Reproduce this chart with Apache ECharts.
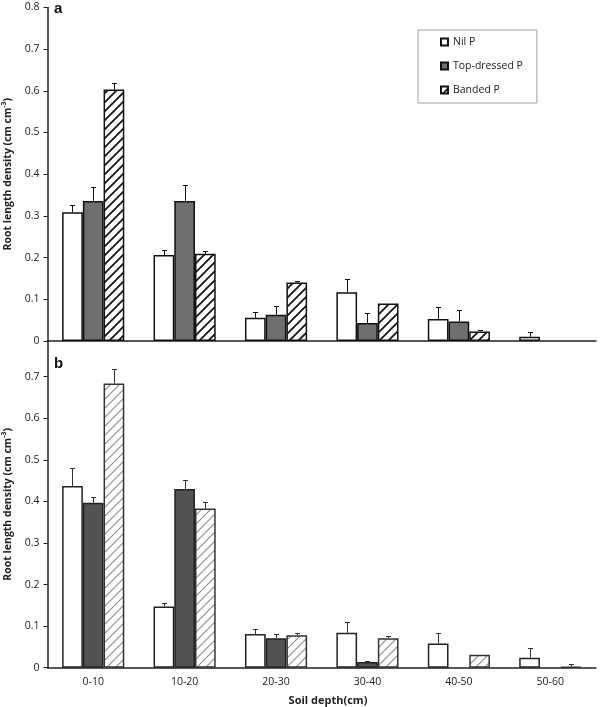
<!DOCTYPE html>
<html>
<head>
<meta charset="utf-8">
<script src="https://cdn.jsdelivr.net/npm/echarts@6/dist/echarts.min.js"></script>
<style>html,body{margin:0;padding:0;background:#fff;}#c{width:600px;height:707px;}</style>
</head>
<body>
<div id="c"></div>
<script>
const categories = ['0-10', '10-20', '20-30', '30-40', '40-50', '50-60'];
const seriesNames = ['Nil P', 'Top-dressed P', 'Banded P'];

// Panel a
const aNil = [0.309, 0.206, 0.056, 0.117, 0.053, 0.010];
const aNilErr = [0.325, 0.219, 0.069, 0.148, 0.082, 0.021];
const aTop = [0.336, 0.336, 0.063, 0.043, 0.047, null];
const aTopErr = [0.370, 0.373, 0.084, 0.067, 0.074, null];
const aBand = [0.603, 0.209, 0.140, 0.090, 0.023, null];
const aBandErr = [0.618, 0.215, 0.145, null, 0.026, null];

// Panel b
const bNil = [0.437, 0.147, 0.081, 0.084, 0.058, 0.024];
const bNilErr = [0.481, 0.156, 0.092, 0.110, 0.083, 0.047];
const bTop = [0.397, 0.430, 0.071, 0.014, null, null];
const bTopErr = [0.410, 0.451, 0.082, 0.017, null, null];
const bBand = [0.684, 0.383, 0.078, 0.071, 0.031, 0.002];
const bBandErr = [0.718, 0.398, 0.084, 0.076, null, 0.009];

const FONT = 'Open Sans';
const CAT_GAP = 0.32;

function hatch(lineColor, lw) {
  const s = 9;
  const c = document.createElement('canvas');
  c.width = s; c.height = s;
  const ctx = c.getContext('2d');
  ctx.fillStyle = '#ffffff';
  ctx.fillRect(0, 0, s, s);
  ctx.strokeStyle = lineColor;
  ctx.lineWidth = lw;
  ctx.beginPath();
  ctx.moveTo(-2, 2); ctx.lineTo(2, -2);
  ctx.moveTo(0, s); ctx.lineTo(s, 0);
  ctx.moveTo(s - 2, s + 2); ctx.lineTo(s + 2, s - 2);
  ctx.stroke();
  return { image: c, repeat: 'repeat' };
}

function errData(errs) {
  const out = [];
  errs.forEach((arr, si) => {
    arr.vals.forEach((v, ci) => {
      const e = arr.errs[ci];
      if (v != null && e != null) out.push([ci, si, v, e]);
    });
  });
  return out;
}

function errSeries(idx, data, color) {
  return {
    type: 'custom', xAxisIndex: idx, yAxisIndex: idx, silent: true, z: 5,
    data: data,
    encode: { x: 0, y: 3 },
    renderItem: function (params, api) {
      const ci = api.value(0), si = api.value(1), v = api.value(2), e = api.value(3);
      const band = api.size([1, 0])[0];
      const bw = band * (1 - CAT_GAP) / 3;
      const x = Math.round(api.coord([ci, 0])[0] + (si - 1) * bw) + 0.5;
      const y0 = api.coord([ci, v])[1];
      const y1 = Math.round(api.coord([ci, e])[1]) + 0.5;
      const st = { stroke: color, lineWidth: 1 };
      return {
        type: 'group', children: [
          { type: 'line', shape: { x1: x, y1: y0, x2: x, y2: y1 }, style: st },
          { type: 'line', shape: { x1: x - 2.5, y1: y1, x2: x + 2.5, y2: y1 }, style: st }
        ]
      };
    }
  };
}

const axisLineStyle = { color: '#222', width: 1.5 };
const labelStyle = { fontFamily: FONT, fontSize: 10.5, color: '#222' };

function yAxis(idx, showMax) {
  return {
    type: 'value', gridIndex: idx, min: 0, max: showMax ? 0.8 : 0.786, interval: 0.1,
    axisLine: { show: true, lineStyle: axisLineStyle },
    axisTick: { show: true, length: 4, lineStyle: { color: '#222', width: 1 } },
    axisLabel: Object.assign({ margin: 8, showMaxLabel: showMax, formatter: v => (v === 0 ? '0' : v.toFixed(1)) }, labelStyle),
    splitLine: { show: false },
    name: '{b|Root length density (cm cm}{s|-3}{b|)}',
    nameLocation: 'middle', nameRotate: 90, nameGap: 28,
    nameTextStyle: {
      rich: {
        b: { fontFamily: FONT, fontWeight: 'bold', fontSize: 10.5, color: '#222', lineHeight: 14 },
        s: { fontFamily: FONT, fontWeight: 'bold', fontSize: 7, color: '#222', verticalAlign: 'top', lineHeight: 14, padding: [0, 0, 6, 0] }
      }
    }
  };
}

function xAxis(idx, showLabels) {
  return {
    type: 'category', gridIndex: idx, data: categories,
    axisLine: { show: true, lineStyle: axisLineStyle },
    axisTick: { show: false },
    axisLabel: Object.assign({ show: showLabels, margin: 9 }, labelStyle),
    splitLine: { show: false }
  };
}

const styleA = [
  { color: '#ffffff', borderColor: '#111', borderWidth: 1.5 },
  { color: '#6f6f6f', borderColor: '#111', borderWidth: 1.5 },
  { color: hatch('#111', 1.7), borderColor: '#111', borderWidth: 1.5 }
];
const styleB = [
  { color: '#ffffff', borderColor: '#222', borderWidth: 1.5 },
  { color: '#525252', borderColor: '#222', borderWidth: 1.5 },
  { color: hatch('#8a8a8a', 1.1), borderColor: '#333', borderWidth: 1.5 }
];

function bars(idx, vals, styles) {
  return vals.map((v, i) => ({
    type: 'bar', name: seriesNames[i], xAxisIndex: idx, yAxisIndex: idx,
    data: v, barGap: '0%', barCategoryGap: (CAT_GAP * 100) + '%',
    itemStyle: styles[i], emphasis: { disabled: true }
  }));
}

const chart = echarts.init(document.getElementById('c'), null, { renderer: 'canvas' });
chart.setOption({
  animation: false,
  backgroundColor: '#ffffff',
  grid: [
    { left: 47.5, right: 4, top: 7.4, height: 333.6, outerBoundsMode: 'none', containLabel: false },
    { left: 47.5, right: 4, top: 341, height: 326.7, outerBoundsMode: 'none', containLabel: false }
  ],
  xAxis: [xAxis(0, false), xAxis(1, true)],
  yAxis: [yAxis(0, true), yAxis(1, false)],
  legend: {
    data: seriesNames, orient: 'vertical', left: 418, top: 30,
    padding: [6, 14, 7, 22], itemGap: 12, itemWidth: 7, itemHeight: 7,
    borderColor: '#a0a0a0', borderWidth: 1, icon: 'rect',
    textStyle: { fontFamily: FONT, fontSize: 10.5, color: '#222', lineHeight: 12 },
    selectedMode: false
  },
  graphic: [
    { type: 'text', left: 54, top: 1, style: { text: 'a', font: 'bold 15px "Liberation Sans"', fill: '#111' } },
    { type: 'text', left: 54, top: 356, style: { text: 'b', font: 'bold 15px "Liberation Sans"', fill: '#111' } },
    { type: 'text', x: 328, y: 701, style: { text: 'Soil depth(cm)', font: 'bold 11px "Open Sans"', fill: '#222', textAlign: 'center', textVerticalAlign: 'middle' } }
  ],
  series: [].concat(
    bars(0, [aNil, aTop, aBand], styleA),
    bars(1, [bNil, bTop, bBand], styleB),
    [
      errSeries(0, errData([{ vals: aNil, errs: aNilErr }, { vals: aTop, errs: aTopErr }, { vals: aBand, errs: aBandErr }]), '#111'),
      errSeries(1, errData([{ vals: bNil, errs: bNilErr }, { vals: bTop, errs: bTopErr }, { vals: bBand, errs: bBandErr }]), '#333')
    ]
  )
});
</script>
</body>
</html>
